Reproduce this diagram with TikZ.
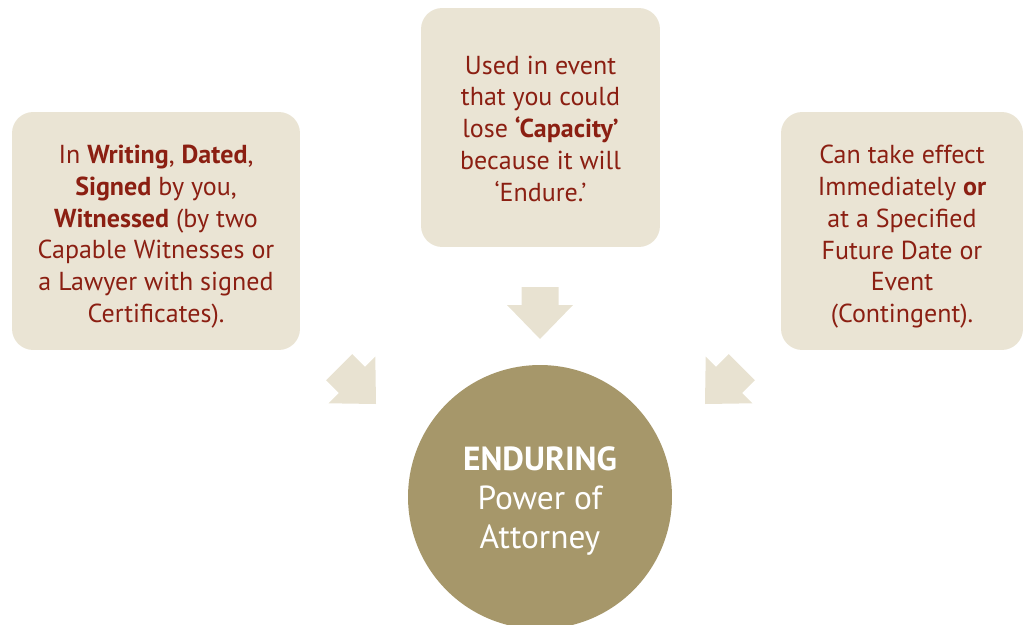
\documentclass[tikz,border=0pt]{standalone}
\usepackage{fontspec}
\setmainfont{PT Sans}
\usetikzlibrary{positioning}

\begin{document}
\begin{tikzpicture}[x=0.02cm, y=-0.02cm,
    infobox/.style={rectangle, rounded corners=12pt, fill=boxbeige, inner sep=0pt},
    infotext/.style={text=textred, align=center, inner sep=0pt,
        font=\fontsize{14.8}{18.2}\selectfont},
    blockarrow/.pic={
        \fill[arrowbeige] (0,0) -- (-33,-34) -- (-18.5,-34) -- (-18.5,-52)
            -- (18.5,-52) -- (18.5,-34) -- (33,-34) -- cycle;
    }]
    % Define colors
    \definecolor{boxbeige}{RGB}{234,228,212}
    \definecolor{arrowbeige}{RGB}{232,226,209}
    \definecolor{textred}{RGB}{139,31,18}
    \definecolor{olive}{RGB}{166,151,106}

    % Fix the page size
    \useasboundingbox (0,0) rectangle (1024,625);

    % Draw boxes
    \node[infobox, minimum width=5.76cm, minimum height=4.76cm] (writing) at (156,231) {};
    \node[infobox, minimum width=4.78cm, minimum height=4.78cm] (endure) at (540.5,127.5) {};
    \node[infobox, minimum width=4.84cm, minimum height=4.76cm] (effect) at (902,231) {};

    % Box texts
    \node[infotext, yshift=-3.2pt] (writingtext) at (writing.center)
        {In \textbf{Writing}, \textbf{Dated},\\ \textbf{Signed} by you,\\
         \textbf{Witnessed} (by two\\ Capable Witnesses or\\
         a Lawyer with signed\\ Certificates).};
    \node[infotext, yshift=-0.8pt] (endtext) at (endure.center)
        {Used in event\\ that you could\\ lose \textbf{‘Capacity’}\\
         because it will\\ ‘Endure.’};
    \node[infotext, yshift=-3.2pt] (effecttext) at (effect.center)
        {Can take effect\\ Immediately \textbf{or}\\ at a Specified\\
         Future Date or\\ Event\\ (Contingent).};

    % Central circle, cut off by the page edge
    \begin{scope}
    \clip (0,0) rectangle (1024,625);
    \node[circle, fill=olive, minimum size=5.28cm] (poa) at (540,497) {};
    \end{scope}
    \node[text=white, align=center, yshift=-2.2pt,
        font=\fontsize{19}{22}\selectfont] (poatext) at (poa.center)
        {\textbf{ENDURING}\\ Power of\\ Attorney};

    % Draw arrows
    \pic at (540,339) {blockarrow};
    \pic[rotate=45] at (376,404) {blockarrow};
    \pic[rotate=-45] at (705,404) {blockarrow};
\end{tikzpicture}
\end{document}
